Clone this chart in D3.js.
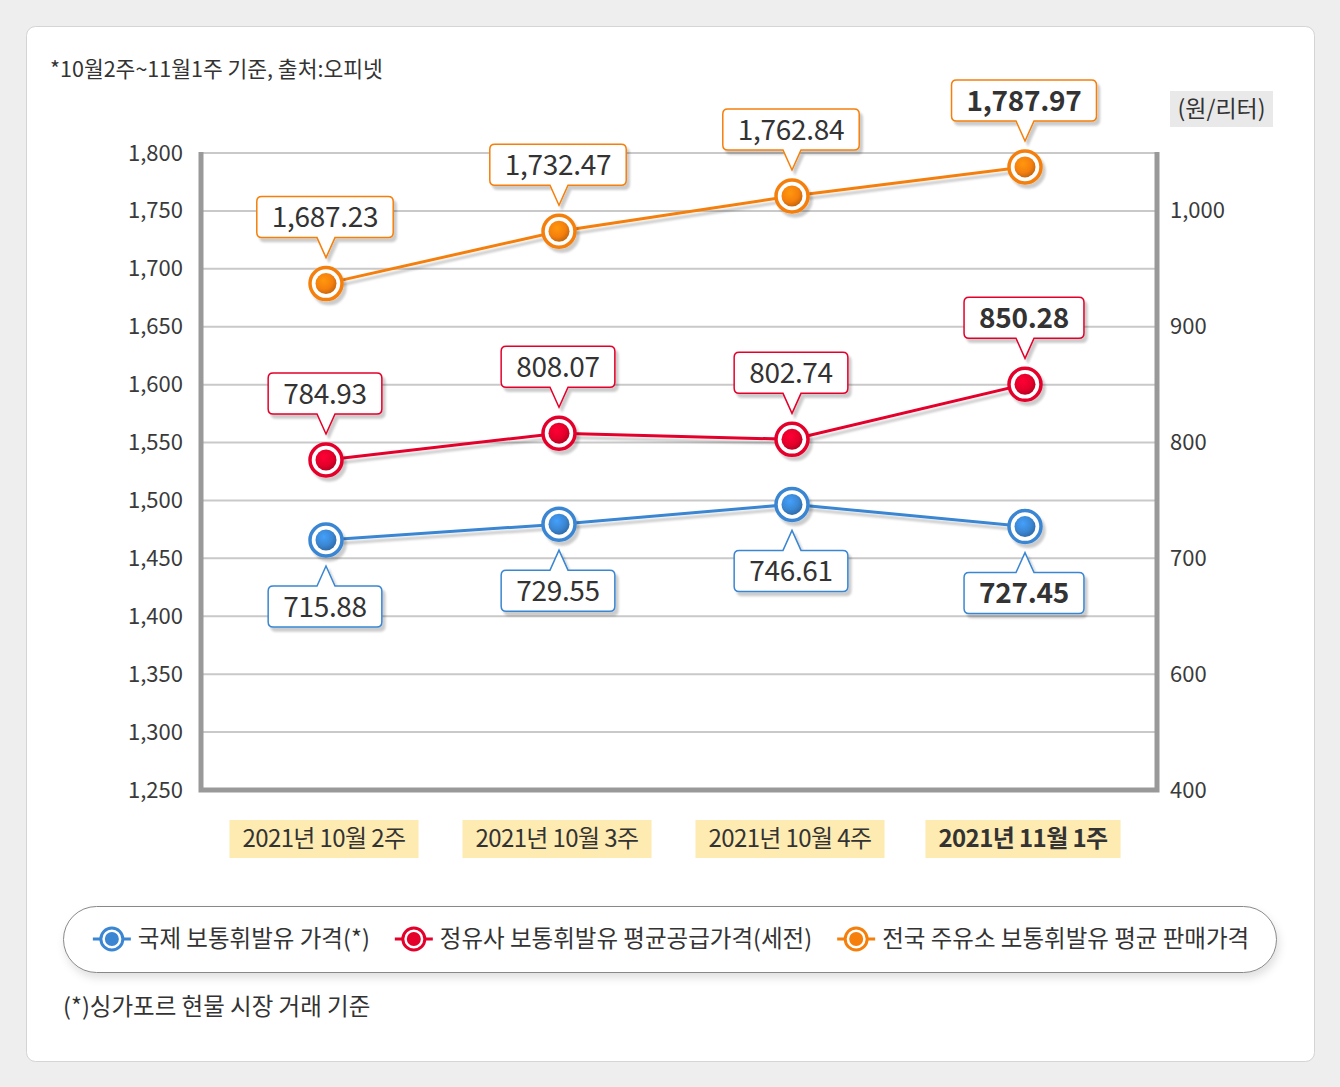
<!DOCTYPE html>
<html><head><meta charset="utf-8">
<script src="https://cdn.jsdelivr.net/npm/d3@7"></script>
<style>
body{margin:0;background:#eeeeee;}
svg{display:block;font-family:"Noto Sans CJK KR","Noto Sans",sans-serif;}
</style>
</head><body>
<svg id="c" width="1340" height="1087"></svg>
<script>
// ---------- DATA ----------
const categories = ["2021년 10월 2주","2021년 10월 3주","2021년 10월 4주","2021년 11월 1주"];
const retailPrice   = [1687.23, 1732.47, 1762.84, 1787.97]; // left axis
const refineryPrice = [784.93, 808.07, 802.74, 850.28];     // right axis
const intlPrice     = [715.88, 729.55, 746.61, 727.45];     // right axis
const leftTicks  = [1250,1300,1350,1400,1450,1500,1550,1600,1650,1700,1750,1800];
const rightTicks = [400,600,700,800,900,1000];
const seriesNames = ["국제 보통휘발유 가격(*)","정유사 보통휘발유 평균공급가격(세전)","전국 주유소 보통휘발유 평균 판매가격"];
const noteText = "*10월2주~11월1주 기준, 출처:오피넷";
const unitText = "(원/리터)";
const footText = "(*)싱가포르 현물 시장 거래 기준";

// ---------- LAYOUT ----------
const svg = d3.select("#c");
const plot = {l:201, r:1157, t:153, b:790};
const colors = {blue:"#3a86d2", red:"#e4002b", orange:"#f57f0a"};

const defs = svg.append("defs");
const sh = defs.append("filter").attr("id","sh").attr("x","-30%").attr("y","-30%").attr("width","160%").attr("height","170%");
sh.append("feDropShadow").attr("dx",3).attr("dy",4).attr("stdDeviation",1.2).attr("flood-color","#000").attr("flood-opacity",0.2);
const sh2 = defs.append("filter").attr("id","sh2").attr("x","-5%").attr("y","-20%").attr("width","110%").attr("height","160%");
sh2.append("feDropShadow").attr("dx",2).attr("dy",5).attr("stdDeviation",4).attr("flood-color","#000").attr("flood-opacity",0.12);

function grad(id, c){
  const g = defs.append("radialGradient").attr("id",id).attr("cx","40%").attr("cy","35%").attr("r","70%");
  g.append("stop").attr("offset","0%").attr("stop-color",d3.color(c).brighter(0.5));
  g.append("stop").attr("offset","60%").attr("stop-color",c);
  g.append("stop").attr("offset","100%").attr("stop-color",d3.color(c).darker(0.7));
}
Object.entries(colors).forEach(([k,c])=>grad("g_"+k,c));

// card
svg.append("rect").attr("x",26.5).attr("y",26.5).attr("width",1288).attr("height",1035)
  .attr("rx",9).attr("fill","#fff").attr("stroke","#d4d4d4");

// scales
const yL = d3.scaleLinear().domain([1250,1800]).range([plot.b, plot.t]);
const yR = d3.scaleLinear().domain([400,600,1000]).range([yL(1250), yL(1350), yL(1750)]);
const x = d3.scalePoint().domain(categories).range([plot.l+125, plot.r-132]);

// gridlines
svg.append("g").selectAll("line").data(leftTicks).join("line")
  .attr("x1",plot.l).attr("x2",plot.r).attr("y1",d=>yL(d)).attr("y2",d=>yL(d))
  .attr("stroke","#c9c9c9").attr("stroke-width",2);

// frame
svg.append("path").attr("d",`M${plot.l},${plot.t-1}V${plot.b}H${plot.r}V${plot.t-1}`)
  .attr("fill","none").attr("stroke","#999").attr("stroke-width",5);

// axes
const axL = svg.append("g").attr("transform",`translate(${plot.l-2},0)`)
  .call(d3.axisLeft(yL).tickValues(leftTicks).tickFormat(d3.format(",")).tickSize(0).tickPadding(16));
const axR = svg.append("g").attr("transform",`translate(${plot.r+2},0)`)
  .call(d3.axisRight(yR).tickValues(rightTicks).tickFormat(d3.format(",")).tickSize(0).tickPadding(11));
[axL,axR].forEach(a=>{
  a.select(".domain").remove();
  a.selectAll("text").attr("font-size",22).attr("fill","#3a3a3a").attr("font-family",'"Noto Sans CJK KR"').attr("letter-spacing",0);
});

// x labels
const xl = svg.append("g").selectAll("g").data(categories).join("g")
  .attr("transform",d=>`translate(${x(d)-2},839)`);
xl.each(function(d,i){
  const g = d3.select(this);
  const t = g.append("text").text(d).attr("text-anchor","middle").attr("dy","0.35em")
    .attr("font-size",24).attr("letter-spacing",-0.6).attr("fill","#333")
    .attr("font-weight", i===categories.length-1 ? 700 : 400);
  const w = t.node().getComputedTextLength() + 26;
  g.insert("rect","text").attr("x",-w/2).attr("y",-19).attr("width",w).attr("height",38).attr("fill","#feebb1");
});

// series
const series = [
  {key:"blue", vals:intlPrice, scale:yR, pos:"below"},
  {key:"red", vals:refineryPrice, scale:yR, pos:"above"},
  {key:"orange", vals:retailPrice, scale:yL, pos:"above"}
];
const fmt = d3.format(",.2f");
const line = d3.line();
series.forEach(s=>{
  const pts = s.vals.map((v,i)=>[x(categories[i]), s.scale(v)]);
  svg.append("path").attr("d",line(pts)).attr("fill","none").attr("stroke",colors[s.key])
    .attr("stroke-width",3).attr("filter","url(#sh)");
});
series.forEach(s=>{
  const g = svg.append("g");
  s.vals.forEach((v,i)=>{
    const cx = x(categories[i]), cy = s.scale(v);
    const m = g.append("g").attr("filter","url(#sh)");
    m.append("circle").attr("cx",cx).attr("cy",cy).attr("r",16).attr("fill","#fff").attr("stroke",colors[s.key]).attr("stroke-width",3.5);
    m.append("circle").attr("cx",cx).attr("cy",cy).attr("r",10.5).attr("fill",`url(#g_${s.key})`);
  });
});
// callout labels
series.forEach(s=>{
  s.vals.forEach((v,i)=>{
    const cx = x(categories[i]), cy = s.scale(v);
    const bold = i===categories.length-1;
    const g = svg.append("g");
    const up = s.pos==="above";
    const tip = up ? cy-26 : cy+26;
    const top = up ? cy-87 : cy+46, bot = top+41;
    const t = g.append("text").text(fmt(v)).attr("x",cx-1).attr("y",(top+bot)/2).attr("dy","0.36em")
      .attr("text-anchor","middle").attr("font-size",28).attr("letter-spacing",-0.3)
      .attr("fill","#333").attr("font-weight",bold?700:400);
    const w = t.node().getComputedTextLength() + 30;
    const l = cx - w/2 - 1, r = cx + w/2 - 1, rr = 5, pw = 9;
    let d;
    if(up){
      d = `M${l+rr},${top}H${r-rr}Q${r},${top} ${r},${top+rr}V${bot-rr}Q${r},${bot} ${r-rr},${bot}`+
          `H${cx+pw}L${cx},${tip}L${cx-pw},${bot}H${l+rr}Q${l},${bot} ${l},${bot-rr}V${top+rr}Q${l},${top} ${l+rr},${top}Z`;
    } else {
      d = `M${l+rr},${top}H${cx-pw}L${cx},${tip}L${cx+pw},${top}H${r-rr}Q${r},${top} ${r},${top+rr}V${bot-rr}Q${r},${bot} ${r-rr},${bot}`+
          `H${l+rr}Q${l},${bot} ${l},${bot-rr}V${top+rr}Q${l},${top} ${l+rr},${top}Z`;
    }
    g.insert("path","text").attr("d",d).attr("fill","#fff").attr("stroke",colors[s.key]).attr("stroke-width",1.5).attr("filter","url(#sh)");
  });
});

// top note
svg.append("text").attr("x",50).attr("y",69).attr("dy","0.35em").text(noteText)
  .attr("font-size",21.5).attr("letter-spacing",0).attr("fill","#333");

// unit label
const ug = svg.append("g");
ug.append("rect").attr("x",1170).attr("y",91).attr("width",103).attr("height",36).attr("fill","#e9e9e9");
ug.append("text").attr("x",1221.5).attr("y",109).attr("dy","0.35em").attr("text-anchor","middle")
  .text(unitText).attr("font-size",23).attr("letter-spacing",0).attr("fill","#333");

// legend
svg.append("rect").attr("x",63.5).attr("y",906.5).attr("width",1213).attr("height",66).attr("rx",33)
  .attr("fill","#fff").attr("stroke","#888").attr("filter","url(#sh2)");
const lg = svg.append("g");
const keys = ["blue","red","orange"];
let cursor = 0;
keys.forEach((k,i)=>{
  const it = lg.append("g").attr("transform",`translate(${cursor},0)`);
  it.append("line").attr("x1",0).attr("x2",38).attr("stroke",colors[k]).attr("stroke-width",3);
  it.append("circle").attr("cx",19).attr("r",11).attr("fill","#fff").attr("stroke",colors[k]).attr("stroke-width",3);
  it.append("circle").attr("cx",19).attr("r",7).attr("fill",colors[k]);
  const t = it.append("text").attr("x",45).attr("dy","0.35em").text(seriesNames[i])
    .attr("font-size",23.5).attr("letter-spacing",0).attr("fill","#333");
  cursor += 45 + t.node().getComputedTextLength() + 25;
});
const totalW = cursor - 25;
lg.attr("transform",`translate(${670 - totalW/2 + 1},939)`);

// footnote
svg.append("text").attr("x",63).attr("y",1007).attr("dy","0.35em").text(footText)
  .attr("font-size",23.5).attr("letter-spacing",0).attr("fill","#333");
</script>
</body></html>
